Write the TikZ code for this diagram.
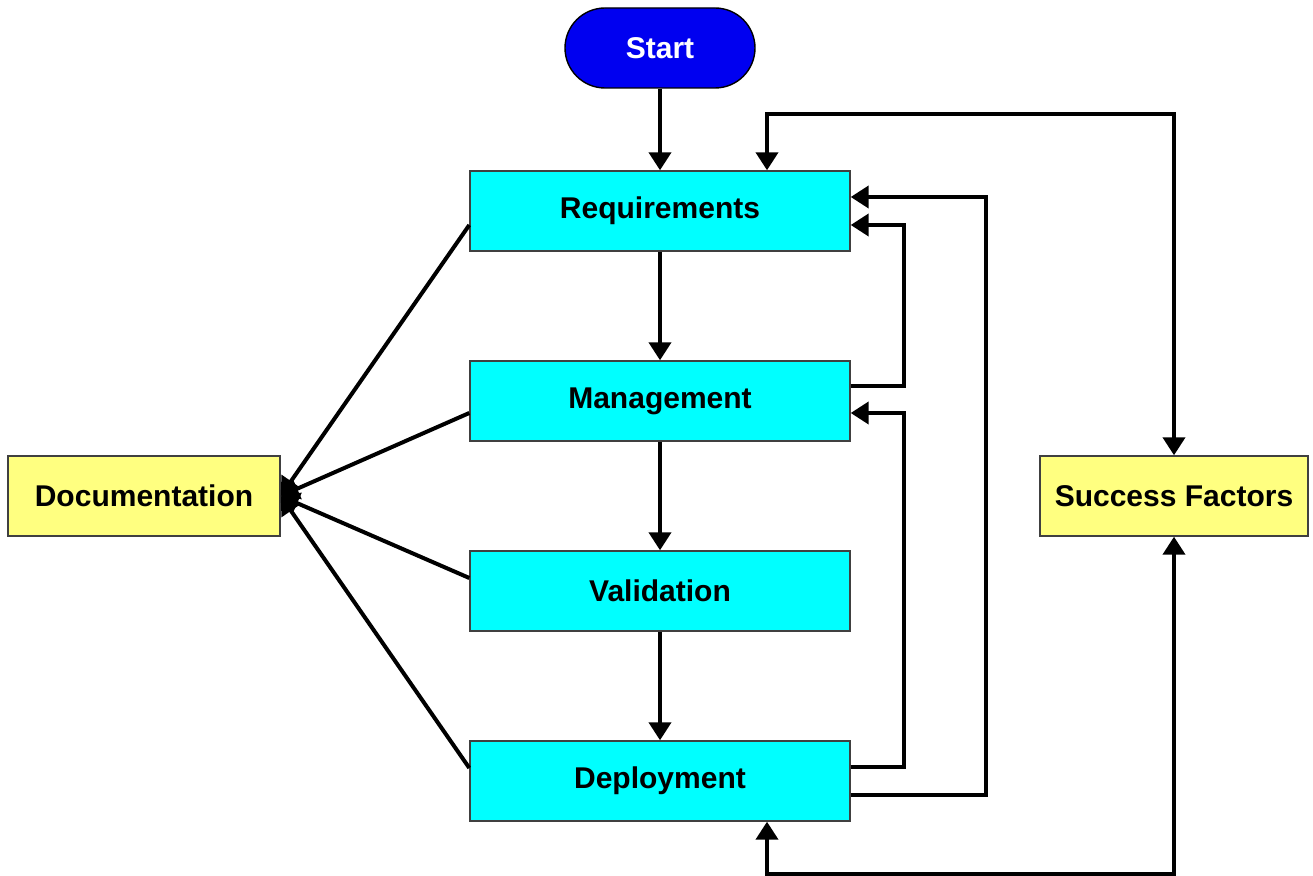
\documentclass[tikz,border=0pt]{standalone}
\usepackage{fontspec}
\setmainfont{Liberation Sans}
\usetikzlibrary{arrows.meta}

\definecolor{stagecyan}{RGB}{0,255,255}
\definecolor{sideyellow}{RGB}{255,255,128}
\definecolor{startblue}{RGB}{0,0,240}

\begin{document}
\begin{tikzpicture}[x=0.5pt,y=-0.5pt,
    box/.style={draw=black!75,line width=0.7pt,minimum width=190pt,minimum height=40pt,
      font=\fontsize{15}{18}\selectfont\bfseries,inner sep=0pt},
    stage/.style={box,fill=stagecyan},
    side/.style={box,fill=sideyellow,minimum width=136pt},
    arr/.style={line width=2pt,-{Triangle[width=11pt,length=9pt]}},
    darr/.style={line width=2pt,{Triangle[width=11pt,length=9pt]}-{Triangle[width=11pt,length=9pt]}}]
        % Frame
        \useasboundingbox (0,0) rectangle (1313,876);

        % Start
        \node[draw=black,line width=0.7pt,fill=startblue,text=white,rounded corners=20pt,
          minimum width=95pt,minimum height=40pt,font=\fontsize{15}{18}\selectfont\bfseries] (start) at (660,48) {Start};

        % Stages
        \node[stage] (req) at (660,211) {Requirements};
        \node[stage] (man) at (660,401) {Management};
        \node[stage] (val) at (660,591) {Validation};
        \node[stage] (dep) at (660,781) {Deployment};

        % Side boxes
        \node[side] (doc) at (144,496) {Documentation};
        \node[side,minimum width=134pt] (succ) at (1174,496) {Success Factors};

        % Main flow
        \draw[arr] (start) -- (req);
        \draw[arr] (req) -- (man);
        \draw[arr] (man) -- (val);
        \draw[arr] (val) -- (dep);

        % Documentation
        \draw[arr] ([yshift=-7pt]req.west) -- (doc.east);
        \draw[arr] ([yshift=-6pt]man.west) -- (doc.east);
        \draw[arr] ([yshift=6.5pt]val.west) -- (doc.east);
        \draw[arr] ([yshift=6.5pt]dep.west) -- (doc.east);

        % Feedback loops
        \draw[arr] ([yshift=7.5pt]man.east) -- ++(26.5pt,0) |- ([yshift=-7pt]req.east);
        \draw[arr] ([yshift=7pt]dep.east) -- ++(26.5pt,0) |- ([yshift=-6pt]man.east);
        \draw[arr] ([yshift=-7pt]dep.east) -- ++(67.5pt,0) |- ([yshift=7pt]req.east);

        % Success factors
        \draw[darr] ([xshift=53.5pt]req.north) -- ++(0,28pt) -| (succ.north);
        \draw[darr] ([xshift=53.5pt]dep.south) -- ++(0,-26pt) -| (succ.south);
\end{tikzpicture}
\end{document}
